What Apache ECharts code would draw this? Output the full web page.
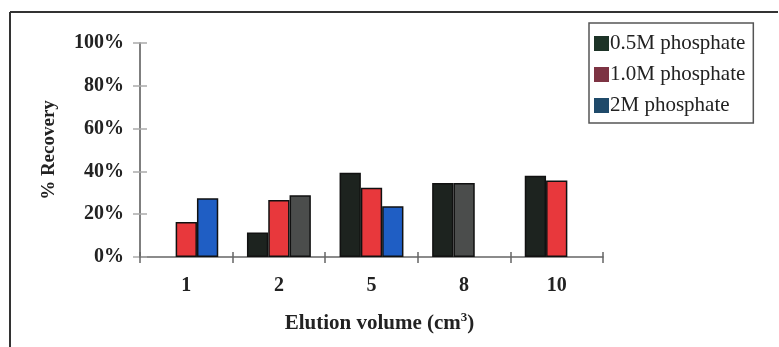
<!DOCTYPE html>
<html>
<head>
<meta charset="utf-8">
<script src="https://cdn.jsdelivr.net/npm/echarts@6/dist/echarts.min.js"></script>
<style>
  html, body { margin: 0; padding: 0; background: #ffffff; }
  #chart { width: 779px; height: 347px; }
</style>
</head>
<body>
<div id="chart"></div>
<script>
// Elution volumes (cm3)
const categories = ['1', '2', '5', '8', '10'];
// % recovery for each phosphate concentration
const series05M = [null, 11.4, 39.4, 34.6, 38.0];
const series10M = [16.3, 26.6, 32.4, 34.6, 35.8];
const series2M  = [27.4, 28.8, 23.7, null, null];
const yTicks = [0, 20, 40, 60, 80, 100];

const seriesNames = ['0.5M phosphate', '1.0M phosphate', '2M phosphate'];
const barColors = ['#1d231f', '#e8383c', '#1f5ec4'];
const legendColors = ['#1d3327', '#7d3343', '#1f4a6a'];
// a few bars are printed in grey
const greyBars = { 1: [3], 2: [1] };
const GREY = '#4b4d4c';

function makeData(values, seriesIdx) {
  return values.map((v, i) => {
    const g = greyBars[seriesIdx];
    if (g && g.indexOf(i) >= 0) return { value: v, itemStyle: { color: GREY } };
    return v;
  });
}

const font = '"Liberation Serif", "Times New Roman", serif';
const chart = echarts.init(document.getElementById('chart'), null, { renderer: 'canvas' });

const option = {
  backgroundColor: '#ffffff',
  animation: false,
  grid: { left: 140, right: 176, top: 43, bottom: 90, containLabel: false },
  legend: {
    orient: 'vertical',
    left: 589,
    top: 23,
    padding: [10, 8, 7, 5],
    itemWidth: 15,
    itemHeight: 15,
    itemGap: 10,
    borderColor: '#555',
    borderWidth: 1.5,
    icon: 'rect',
    textStyle: { fontFamily: font, fontSize: 21, color: '#222', padding: [0, 0, 0, -4] },
    data: seriesNames.map((n, i) => ({
      name: n,
      itemStyle: { color: legendColors[i], borderWidth: 0 }
    }))
  },
  xAxis: [{
    type: 'category',
    data: categories,
    axisLine: { lineStyle: { color: '#666', width: 1.5 } },
    axisTick: { show: true, alignWithLabel: false, length: 6, lineStyle: { color: '#666', width: 1.5 } },
    axisLabel: { fontFamily: font, fontSize: 20, fontWeight: 'bold', color: '#222', margin: 19 },
    name: '{a|Elution volume (cm}{s|3}{a|)}',
    nameLocation: 'middle',
    nameGap: 54,
    nameTextStyle: {
      padding: [0, 0, 0, 16],
      rich: {
        a: { fontFamily: font, fontSize: 21, fontWeight: 'bold', color: '#222' },
        s: { fontFamily: font, fontSize: 13, fontWeight: 'bold', color: '#222', verticalAlign: 'top', padding: [0, 0, 12, 0] }
      }
    }
  }, {
    type: 'category',
    data: categories,
    position: 'bottom',
    axisLine: { show: false },
    axisTick: { show: true, inside: true, alignWithLabel: false, length: 5, lineStyle: { color: '#666', width: 1.5 } },
    axisLabel: { show: false }
  }],
  yAxis: [{
    type: 'value',
    min: 0,
    max: 100,
    interval: 20,
    splitLine: { show: false },
    axisLine: { show: true, lineStyle: { color: '#555', width: 1.5 } },
    axisTick: { show: true, length: 7, lineStyle: { color: '#aaa', width: 1.5 } },
    axisLabel: {
      fontFamily: font, fontSize: 20, fontWeight: 'bold', color: '#222', margin: 16,
      formatter: v => (yTicks.indexOf(v) >= 0 ? v + '%' : '')
    },
    name: '% Recovery',
    nameLocation: 'middle',
    nameGap: 81,
    nameRotate: 90,
    nameTextStyle: { fontFamily: font, fontSize: 19, fontWeight: 'bold', color: '#222' }
  }, {
    type: 'value',
    min: 0,
    max: 100,
    interval: 20,
    position: 'left',
    splitLine: { show: false },
    axisLine: { show: false },
    axisTick: { show: true, inside: true, length: 7, lineStyle: { color: '#aaa', width: 1.5 } },
    axisLabel: { show: false }
  }],
  series: [series05M, series10M, series2M].map((vals, i) => ({
    name: seriesNames[i],
    type: 'bar',
    xAxisIndex: 0,
    yAxisIndex: 0,
    data: makeData(vals, i),
    barGap: '0%',
    barCategoryGap: '31%',
    itemStyle: { color: barColors[i], borderColor: '#111', borderWidth: 1.5 }
  })),
  graphic: [
    { type: 'line', shape: { x1: 10, y1: 12, x2: 778, y2: 12 }, style: { stroke: '#333', lineWidth: 2 } },
    { type: 'line', shape: { x1: 10, y1: 12, x2: 10, y2: 347 }, style: { stroke: '#333', lineWidth: 2 } }
  ]
};

chart.setOption(option);
</script>
</body>
</html>
